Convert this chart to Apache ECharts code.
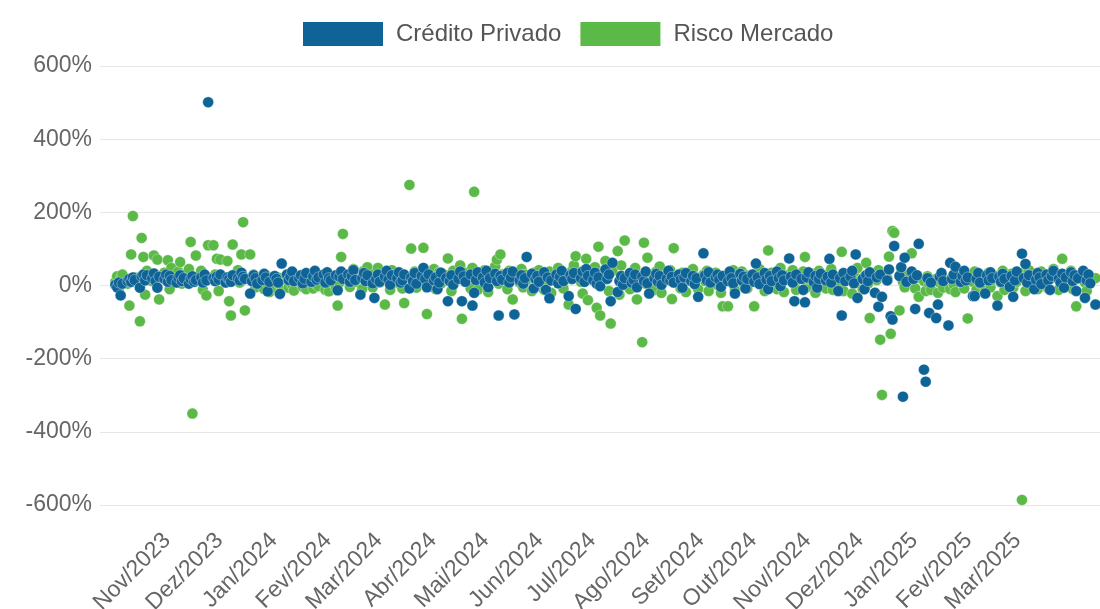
<!DOCTYPE html>
<html>
<head>
<meta charset="utf-8">
<script src="https://cdn.jsdelivr.net/npm/echarts@6/dist/echarts.min.js"></script>
<style>
  html, body { margin: 0; padding: 0; background: #fff; }
  #chart { width: 1100px; height: 609px; }
</style>
</head>
<body>
<div id="chart"></div>
<script>
// primeiro dia útil da série (ano, mês 0-based, dia)
const startDay = [2023, 9, 2]

// retorno diário em % (um valor por dia útil)
const creditoPrivado = [
  2, -5, 8, -27, 5, 12, 18, 10, 22, 15, -6, 25, 30, 14, 28, 20, 33, 12, -6, 24,
  18, 30, 10, 26, 15, 8, 22, 28, 12, 20, 5, 18, 25, 10, 15, 22, 8, 30, 14, 501,
  20, 12, 25, 16, 30, 8, 22, 18, 10, 28, 20, 14, 35, 24, 18, -22, 12, 28, 20, 5,
  15, 32, 22, -16, 10, 26, 18, 8, -23, 60, 30, 15, 24, 38, 12, 20, 28, 6, 18, 34,
  10, 25, 40, 16, 22, 30, 8, 36, 20, 14, 28, -13, 24, 38, 18, 30, 10, 26, 42, 15,
  -25, 20, 34, 12, 28, 6, -34, 18, 30, 10, 24, 40, 16, 2, 28, 20, 36, 8, 14, 30,
  -8, 22, 12, 34, 5, 26, 48, 18, -5, 30, 14, 22, -10, 8, 35, 20, -43, 12, 28, 2,
  18, 38, -43, 25, 10, 30, -55, -20, 15, 36, 22, 8, 40, -5, 20, 32, 12, -82, 26, 16,
  34, 8, 22, 38, -79, 14, 28, 5, 20, 78, 32, -8, 18, 26, 10, 36, -12, 22, -35, 14,
  30, 6, 24, 40, 12, -29, 28, 18, 34, -64, 20, 38, 10, 45, 26, 15, 35, 5, 22, -2,
  44, 18, 30, -43, 62, -18, 12, 26, 2, 20, 34, 8, 16, 30, -5, 24, 12, 38, 6, -22,
  20, 32, 10, 26, 2, 18, 40, 14, 24, 8, 30, 16, -6, 22, 34, 12, 26, 4, 20, -31,
  88, 28, 14, 36, 8, 22, 30, 16, -4, 26, 12, 38, 20, 6, -22, 32, 14, 24, -8, 18,
  30, 10, 60, 22, 4, 34, 16, -10, 26, 12, 38, 20, -2, 28, 14, 74, 24, 8, -43, 30,
  18, -12, -46, 22, 36, 10, 26, -6, 18, 32, 14, 24, 73, 8, 30, -15, 20, -82, 34, 12,
  24, 40, 6, 85, -34, 18, -10, 28, 12, 36, -20, 22, -58, 30, -31, 14, 44, -84, -93, 108,
  26, 50, -304, 76, 10, 38, 18, -64, 28, 114, -230, -263, 20, -75, 8, -89, -52, 24, 34, 12,
  -109, 62, 18, 30, 51, 10, 26, 40, 14, 22, -29, -29, 18, 34, 8, -22, 28, 14, 36, 20,
  -55, 24, 10, 32, 18, -4, 26, -31, 14, 38, 87, 20, 59, 8, 28, -10, 16, 34, 22, 4,
  30, 14, -12, 26, 40, 18, 8, 32, -6, 22, 36, 12, 28, -15, 20, 40, -34, 14, 30, 6,
  -52
]

const riscoMercado = [
  10, 25, -8, 18, 30, 5, -55, 85, 190, 22, -98, 130, 78, -25, 40, 12, 82, 28, 71, -38,
  35, 15, 69, -10, 48, 20, 38, 64, 5, 30, 45, 119, -350, 18, 82, 40, -12, 25, -27, 110,
  110, 30, 73, -15, 71, 22, 67, -43, -82, 112, 42, 8, 85, 173, -68, 85, 15, 30, -5, 20,
  10, -10, 28, 5, -18, 16, -8, 22, 0, -12, 12, -6, 18, 2, -14, 10, 24, -4, 8, -10,
  14, -8, 6, 20, -2, 12, -12, 4, -16, 10, -6, -55, 8, 78, 141, 30, -4, 18, 45, 10,
  28, -10, 40, 15, 50, -5, 32, 20, 48, 8, -52, 35, 12, -12, 42, 22, 6, 30, -8, -48,
  275, 101, 18, 38, -6, 25, 103, 10, -78, 30, 45, -10, 20, 36, 5, 28, 74, 12, -15, 40,
  22, 55, -91, 18, 35, -8, 48, 256, 20, -12, 30, 42, 10, -18, 25, 52, 71, 5, 85, 30,
  -10, 40, 18, -38, 25, 8, 45, -5, 30, 15, -15, 35, 20, 5, 42, -12, 28, 10, 38, -20,
  22, 48, 6, 32, -8, -52, 18, 40, 55, 80, 10, -22, 35, 73, -40, 20, 50, -61, 106, -82,
  67, 30, -15, -104, 40, 94, -25, 55, 12, 123, -10, 35, 20, 48, -38, -155, 117, 5, 76, 25,
  -12, 38, 10, 52, -20, 28, 15, 42, -37, 102, 20, -8, 35, 12, -18, 28, 45, 5, 22, -10,
  30, 12, 40, -15, 18, 35, 2, 25, -20, -57, -57, 30, 10, 42, -12, 20, 38, 5, 28, -8,
  15, -57, 32, 10, 45, -15, 22, 96, 8, 35, -10, 28, 48, 12, -18, 30, 20, 42, 5, -12,
  25, 38, 78, -5, 18, 32, -20, 12, 40, 22, -8, 30, 15, 45, -12, 20, 8, 92, -15, 30,
  18, -22, 35, 10, 48, -10, 25, 62, 5, -89, 30, 15, 42, -148, -299, 20, 79, -132, 149, 144,
  -68, 35, 10, -5, 28, 88, 15, -8, 20, -31, 12, -15, 25, 5, -12, 18, -20, 8, 30, -6,
  15, -10, 22, 2, -18, 12, 30, -8, 18, -90, 10, 38, -12, 25, 5, -15, 20, 35, -5, 15,
  -29, 28, 8, 40, -12, 18, 32, -6, 22, 10, -586, 35, -15, 20, 42, 5, 28, -10, 18, 38,
  10, -8, 30, 20, 45, -12, 15, 73, 25, 5, 40, -10, 30, -57, 18, 35, 8, -15, 28, 12,
  20
]

// meses marcados no eixo x (ano, mês 0-based)
const monthTicks = [
  [2023, 10], [2023, 11], [2024, 0], [2024, 1], [2024, 2], [2024, 3], [2024, 4],
  [2024, 5], [2024, 6], [2024, 7], [2024, 8], [2024, 9], [2024, 10], [2024, 11],
  [2025, 0], [2025, 1], [2025, 2]
]
const monthNames = ['Jan', 'Fev', 'Mar', 'Abr', 'Mai', 'Jun', 'Jul', 'Ago', 'Set', 'Out', 'Nov', 'Dez']

const yTicks = [-600, -400, -200, 0, 200, 400, 600]

// datas dos dias úteis (seg a sex) a partir de startDay
function businessDays(n) {
  const out = []
  const d = new Date(startDay[0], startDay[1], startDay[2], 12)
  while (out.length < n) {
    const wd = d.getDay()
    if (wd !== 0 && wd !== 6) out.push(d.getTime())
    d.setDate(d.getDate() + 1)
  }
  return out
}

const days = businessDays(creditoPrivado.length)
const toPairs = (values) => values.map((v, i) => [days[i], v])

const chart = echarts.init(document.getElementById('chart'))

const baseFont = {
  fontFamily: '"Liberation Sans", Arial, sans-serif',
  fontSize: 23,
  color: '#666'
}

chart.setOption({
  animation: false,
  backgroundColor: '#fff',
  textStyle: { fontFamily: baseFont.fontFamily },
  legend: {
    data: ['Crédito Privado', 'Risco Mercado'],
    top: 17,
    left: 298,
    icon: 'rect',
    itemWidth: 80,
    itemHeight: 24,
    itemGap: 19,
    textStyle: { ...baseFont, fontSize: 24, color: '#555', padding: [0, 0, 0, 8] },
    itemStyle: { borderWidth: 0 }
  },
  grid: { left: 100, right: 0, top: 66, bottom: 104, containLabel: false, outerBoundsMode: 'none' },
  xAxis: {
    type: 'value',
    min: new Date(2023, 8, 23, 17).getTime(),
    max: new Date(2025, 3, 17, 2).getTime(),
    axisLine: { show: false },
    axisTick: { show: false },
    splitLine: { show: false },
    axisLabel: {
      ...baseFont,
      rotate: 45,
      margin: 32,
      customValues: monthTicks.map(m => new Date(m[0], m[1], 1).getTime()),
      formatter: (value) => {
        const d = new Date(value)
        return monthNames[d.getMonth()] + '/' + d.getFullYear()
      }
    }
  },
  yAxis: {
    type: 'value',
    min: yTicks[0],
    max: yTicks[yTicks.length - 1],
    interval: 200,
    axisLine: { show: false },
    axisTick: { show: false },
    splitLine: { lineStyle: { color: '#e6e6e6', width: 1 } },
    axisLabel: { ...baseFont, margin: 8, formatter: '{value}%' }
  },
  series: [
    {
      name: 'Risco Mercado',
      type: 'scatter',
      symbolSize: 11,
      z: 2,
      itemStyle: { color: '#5bb947', opacity: 1, borderColor: 'rgba(255,255,255,0.35)', borderWidth: 1 },
      data: toPairs(riscoMercado)
    },
    {
      name: 'Crédito Privado',
      type: 'scatter',
      symbolSize: 11,
      z: 3,
      itemStyle: { color: '#0e6497', opacity: 1, borderColor: 'rgba(255,255,255,0.35)', borderWidth: 1 },
      data: toPairs(creditoPrivado)
    }
  ]
})
</script>
</body>
</html>
